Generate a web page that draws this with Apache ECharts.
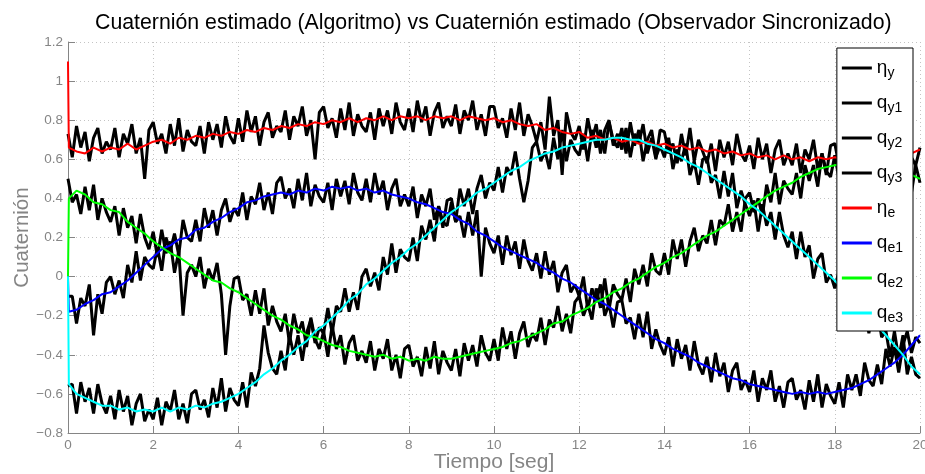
<!DOCTYPE html>
<html>
<head>
<meta charset="utf-8">
<script src="https://cdn.jsdelivr.net/npm/echarts@6/dist/echarts.min.js"></script>
<style>
  html, body { margin: 0; padding: 0; background: #fff; }
  #chart { width: 925px; height: 474px; }
</style>
</head>
<body>
<div id="chart"></div>
<script>
// sample times [seg] of the measured (algorithm) signals
const tiempoY = [
  0.0, 0.1, 0.2, 0.3, 0.4, 0.5, 0.6, 0.7, 0.8, 0.9,
  1.0, 1.1, 1.2, 1.3, 1.4, 1.5, 1.6, 1.7, 1.8, 1.9,
  2.0, 2.1, 2.2, 2.3, 2.4, 2.5, 2.6, 2.7, 2.8, 2.9,
  3.0, 3.1, 3.2, 3.3, 3.4, 3.5, 3.6, 3.7, 3.8, 3.9,
  4.0, 4.1, 4.2, 4.3, 4.4, 4.5, 4.6, 4.7, 4.8, 4.9,
  5.0, 5.1, 5.2, 5.3, 5.4, 5.5, 5.6, 5.7, 5.8, 5.9,
  6.0, 6.1, 6.2, 6.3, 6.4, 6.5, 6.6, 6.7, 6.8, 6.9,
  7.0, 7.1, 7.2, 7.3, 7.4, 7.5, 7.6, 7.7, 7.8, 7.9,
  8.0, 8.1, 8.2, 8.3, 8.4, 8.5, 8.6, 8.7, 8.8, 8.9,
  9.0, 9.1, 9.2, 9.3, 9.4, 9.5, 9.6, 9.7, 9.8, 9.9,
  10.0, 10.1, 10.2, 10.3, 10.4, 10.5, 10.6, 10.7, 10.8, 10.9,
  11.0, 11.1, 11.2, 11.3, 11.4, 11.5, 11.6, 11.7, 11.8, 11.9,
  12.0, 12.1, 12.2, 12.3, 12.4, 12.5, 12.6, 12.7, 12.8, 12.9,
  13.0, 13.1, 13.2, 13.3, 13.4, 13.5, 13.6, 13.7, 13.8, 13.9,
  14.0, 14.1, 14.2, 14.3, 14.4, 14.5, 14.6, 14.7, 14.8, 14.9,
  15.0, 15.1, 15.2, 15.3, 15.4, 15.5, 15.6, 15.7, 15.8, 15.9,
  16.0, 16.1, 16.2, 16.3, 16.4, 16.5, 16.6, 16.7, 16.8, 16.9,
  17.0, 17.1, 17.2, 17.3, 17.4, 17.5, 17.6, 17.7, 17.8, 17.9,
  18.0, 18.1, 18.2, 18.3, 18.4, 18.5, 18.6, 18.7, 18.8, 18.9,
  19.0, 19.1, 19.2, 19.3, 19.4, 19.5, 19.6, 19.7, 19.8, 19.9,
  20.0];

// sample times [seg] of the estimated (observer) signals
const tiempoE = [0, 0.02,
  0.2, 0.4, 0.6, 0.8, 1.0, 1.2, 1.4, 1.6, 1.8, 2.0,
  2.2, 2.4, 2.6, 2.8, 3.0, 3.2, 3.4, 3.6, 3.8, 4.0,
  4.2, 4.4, 4.6, 4.8, 5.0, 5.2, 5.4, 5.6, 5.8, 6.0,
  6.2, 6.4, 6.6, 6.8, 7.0, 7.2, 7.4, 7.6, 7.8, 8.0,
  8.2, 8.4, 8.6, 8.8, 9.0, 9.2, 9.4, 9.6, 9.8, 10.0,
  10.2, 10.4, 10.6, 10.8, 11.0, 11.2, 11.4, 11.6, 11.8, 12.0,
  12.2, 12.4, 12.6, 12.8, 13.0, 13.2, 13.4, 13.6, 13.8, 14.0,
  14.2, 14.4, 14.6, 14.8, 15.0, 15.2, 15.4, 15.6, 15.8, 16.0,
  16.2, 16.4, 16.6, 16.8, 17.0, 17.2, 17.4, 17.6, 17.8, 18.0,
  18.2, 18.4, 18.6, 18.8, 19.0, 19.2, 19.4, 19.6, 19.8, 20.0];

// quaternion from the algorithm (noisy)
const etaY = [
  0.73, 0.61, 0.77, 0.66, 0.74, 0.59, 0.71, 0.76, 0.63, 0.69,
  0.65, 0.76, 0.61, 0.73, 0.68, 0.78, 0.63, 0.71, 0.50, 0.75,
  0.79, 0.68, 0.73, 0.63, 0.78, 0.67, 0.81, 0.64, 0.75, 0.69,
  0.67, 0.77, 0.63, 0.79, 0.70, 0.78, 0.66, 0.82, 0.72, 0.68,
  0.81, 0.69, 0.85, 0.74, 0.82, 0.67, 0.79, 0.84, 0.71, 0.77,
  0.74, 0.85, 0.70, 0.82, 0.77, 0.87, 0.72, 0.80, 0.60, 0.84,
  0.87, 0.76, 0.81, 0.71, 0.86, 0.75, 0.89, 0.72, 0.83, 0.77,
  0.74, 0.84, 0.70, 0.86, 0.77, 0.85, 0.73, 0.89, 0.79, 0.75,
  0.86, 0.74, 0.90, 0.79, 0.87, 0.72, 0.84, 0.89, 0.76, 0.82,
  0.77, 0.88, 0.73, 0.85, 0.80, 0.90, 0.75, 0.83, 0.72, 0.87,
  0.87, 0.76, 0.81, 0.71, 0.86, 0.75, 0.89, 0.72, 0.83, 0.77,
  0.69, 0.79, 0.65, 0.92, 0.72, 0.80, 0.52, 0.84, 0.74, 0.70,
  0.77, 0.65, 0.81, 0.70, 0.78, 0.63, 0.75, 0.80, 0.67, 0.73,
  0.65, 0.76, 0.61, 0.73, 0.68, 0.78, 0.63, 0.71, 0.60, 0.75,
  0.74, 0.63, 0.68, 0.58, 0.73, 0.62, 0.76, 0.59, 0.70, 0.64,
  0.58, 0.68, 0.54, 0.70, 0.61, 0.69, 0.57, 0.73, 0.63, 0.59,
  0.67, 0.55, 0.71, 0.60, 0.68, 0.53, 0.65, 0.70, 0.57, 0.63,
  0.57, 0.68, 0.53, 0.65, 0.60, 0.70, 0.55, 0.63, 0.52, 0.67,
  0.68, 0.57, 0.62, 0.52, 0.67, 0.56, 0.70, 0.53, 0.64, 0.58,
  0.56, 0.66, 0.52, 0.68, 0.59, 0.67, 0.55, 0.71, 0.61, 0.57,
  0.66];
const qY1 = [
  -0.10, -0.10, -0.24, -0.11, -0.15, -0.04, -0.30, -0.09, -0.19, -0.03,
  0.00, -0.09, -0.02, -0.11, 0.06, -0.03, 0.13, -0.02, 0.10, 0.06,
  0.04, 0.15, 0.03, 0.20, 0.13, 0.22, 0.11, 0.29, 0.20, 0.18,
  0.29, 0.18, 0.35, 0.25, 0.34, 0.21, 0.34, 0.40, 0.28, 0.35,
  0.31, 0.43, 0.29, 0.41, 0.37, 0.48, 0.34, 0.43, 0.32, 0.48,
  0.51, 0.40, 0.45, 0.35, 0.50, 0.39, 0.53, 0.36, 0.47, 0.41,
  0.38, 0.48, 0.34, 0.50, 0.41, 0.49, 0.37, 0.53, 0.43, 0.39,
  0.50, 0.38, 0.53, 0.42, 0.49, 0.34, 0.45, 0.50, 0.36, 0.42,
  0.36, 0.46, 0.30, 0.42, 0.36, 0.45, 0.29, 0.36, 0.25, 0.39,
  0.40, 0.28, 0.31, 0.20, 0.33, 0.21, 0.34, 0.00, 0.25, 0.17,
  0.12, 0.21, 0.06, 0.21, 0.11, 0.18, 0.04, 0.19, 0.08, 0.03,
  0.12, -0.01, 0.13, 0.01, 0.08, -0.08, 0.02, 0.06, -0.08, -0.04,
  -0.10, 0.00, -0.17, -0.06, -0.13, -0.04, -0.20, -0.14, -0.26, -0.13,
  -0.12, -0.24, -0.21, -0.32, -0.19, -0.31, -0.18, -0.37, -0.27, -0.35,
  -0.40, -0.31, -0.46, -0.32, -0.42, -0.35, -0.48, -0.33, -0.45, -0.50,
  -0.41, -0.54, -0.39, -0.51, -0.44, -0.59, -0.48, -0.44, -0.58, -0.53,
  -0.59, -0.48, -0.64, -0.52, -0.58, -0.48, -0.64, -0.56, -0.67, -0.54,
  -0.52, -0.63, -0.58, -0.68, -0.53, -0.64, -0.50, -0.67, -0.55, -0.61,
  -0.65, -0.54, -0.67, -0.50, -0.58, -0.50, -0.61, -0.44, -0.53, -0.56,
  -0.45, -0.55, -0.37, -0.46, -0.36, -0.49, -0.35, -0.28, -0.39, -0.31,
  -0.34];
const qY2 = [
  0.50, 0.38, 0.42, 0.32, 0.46, 0.34, 0.47, 0.29, 0.40, 0.33,
  0.28, 0.36, 0.21, 0.35, 0.25, 0.31, 0.17, 0.32, 0.20, 0.14,
  0.23, 0.10, 0.24, 0.12, 0.18, 0.02, 0.13, -0.20, 0.02, 0.06,
  0.00, 0.10, -0.06, 0.04, -0.02, 0.07, -0.09, -0.40, -0.15, -0.01,
  0.00, -0.12, -0.09, -0.20, -0.07, -0.19, -0.06, -0.25, -0.15, -0.23,
  -0.28, -0.19, -0.34, -0.19, -0.29, -0.23, -0.36, -0.21, -0.32, -0.37,
  -0.28, -0.41, -0.25, -0.37, -0.30, -0.45, -0.34, -0.30, -0.43, -0.38,
  -0.44, -0.33, -0.48, -0.37, -0.42, -0.32, -0.48, -0.40, -0.52, -0.37,
  -0.35, -0.46, -0.41, -0.51, -0.36, -0.47, -0.33, -0.50, -0.38, -0.44,
  -0.48, -0.37, -0.51, -0.34, -0.43, -0.35, -0.46, -0.30, -0.39, -0.43,
  -0.32, -0.43, -0.26, -0.37, -0.28, -0.42, -0.29, -0.23, -0.36, -0.29,
  -0.33, -0.21, -0.35, -0.22, -0.26, -0.15, -0.28, -0.19, -0.29, -0.13,
  -0.10, -0.20, -0.14, -0.22, -0.06, -0.16, -0.01, -0.17, -0.04, -0.09,
  -0.12, -0.01, -0.13, 0.04, -0.04, 0.06, -0.05, 0.12, 0.03, 0.01,
  0.12, 0.01, 0.19, 0.09, 0.19, 0.05, 0.18, 0.25, 0.13, 0.21,
  0.17, 0.29, 0.16, 0.29, 0.26, 0.37, 0.23, 0.33, 0.23, 0.40,
  0.43, 0.33, 0.40, 0.31, 0.47, 0.38, 0.53, 0.37, 0.49, 0.45,
  0.42, 0.53, 0.40, 0.57, 0.49, 0.57, 0.46, 0.63, 0.54, 0.51,
  0.62, 0.50, 0.66, 0.55, 0.63, 0.48, 0.60, 0.65, 0.52, 0.58,
  0.53, 0.63, 0.48, 0.59, 0.53, 0.63, 0.47, 0.54, 0.43, 0.57,
  0.48];
const qY3 = [
  -0.56, -0.55, -0.70, -0.54, -0.64, -0.57, -0.70, -0.55, -0.65, -0.70,
  -0.61, -0.73, -0.58, -0.69, -0.61, -0.76, -0.65, -0.60, -0.74, -0.68,
  -0.73, -0.62, -0.76, -0.64, -0.69, -0.58, -0.73, -0.65, -0.75, -0.60,
  -0.58, -0.68, -0.63, -0.72, -0.57, -0.67, -0.52, -0.69, -0.57, -0.63,
  -0.66, -0.54, -0.67, -0.49, -0.56, -0.47, -0.25, -0.39, -0.47, -0.50,
  -0.38, -0.48, -0.30, -0.40, -0.30, -0.43, -0.29, -0.22, -0.34, -0.26,
  -0.29, -0.16, -0.29, -0.15, -0.18, -0.06, -0.18, -0.08, -0.17, 0.00,
  0.04, -0.05, 0.02, -0.07, 0.10, 0.01, 0.17, 0.02, 0.14, 0.10,
  0.08, 0.20, 0.08, 0.26, 0.19, 0.29, 0.18, 0.36, 0.28, 0.26,
  0.38, 0.28, 0.45, 0.36, 0.45, 0.32, 0.45, 0.52, 0.40, 0.48,
  0.44, 0.56, 0.43, 0.56, 0.52, 0.64, 0.50, 0.38, 0.49, 0.66,
  0.69, 0.59, 0.64, 0.55, 0.71, 0.60, 0.75, 0.59, 0.70, 0.65,
  0.62, 0.73, 0.59, 0.75, 0.66, 0.75, 0.63, 0.79, 0.70, 0.66,
  0.76, 0.63, 0.79, 0.67, 0.75, 0.59, 0.70, 0.75, 0.61, 0.67,
  0.61, 0.71, 0.55, 0.65, 0.59, 0.68, 0.52, 0.59, 0.47, 0.60,
  0.61, 0.48, 0.52, 0.40, 0.54, 0.41, 0.53, 0.35, 0.44, 0.37,
  0.31, 0.39, 0.23, 0.37, 0.26, 0.33, 0.19, 0.33, 0.21, 0.15,
  0.23, 0.09, 0.23, 0.10, 0.16, -0.01, 0.09, 0.12, -0.03, 0.01,
  -0.06, 0.03, -0.15, -0.05, -0.12, -0.05, -0.22, -0.16, -0.29, -0.17,
  -0.17, -0.31, -0.28, -0.41, -0.28, -0.42, -0.30, -0.50, -0.41, -0.50,
  -0.52];

// quaternion from the synchronized observer
const etaE = [1.10, 0.66,
  0.64, 0.63, 0.66, 0.64, 0.66, 0.65, 0.68, 0.65, 0.67, 0.69,
  0.70, 0.68, 0.71, 0.70, 0.72, 0.71, 0.73, 0.72, 0.74, 0.73,
  0.75, 0.74, 0.76, 0.75, 0.77, 0.76, 0.78, 0.77, 0.79, 0.78,
  0.80, 0.79, 0.81, 0.79, 0.81, 0.80, 0.82, 0.80, 0.82, 0.81,
  0.82, 0.80, 0.82, 0.81, 0.82, 0.80, 0.82, 0.81, 0.80, 0.81,
  0.79, 0.80, 0.78, 0.77, 0.78, 0.75, 0.76, 0.74, 0.73, 0.74,
  0.71, 0.72, 0.70, 0.71, 0.69, 0.70, 0.68, 0.69, 0.67, 0.68,
  0.66, 0.67, 0.65, 0.66, 0.64, 0.65, 0.63, 0.64, 0.62, 0.63,
  0.61, 0.62, 0.60, 0.62, 0.60, 0.61, 0.59, 0.61, 0.60, 0.61,
  0.60, 0.62, 0.61, 0.63, 0.62, 0.64, 0.62, 0.64, 0.63, 0.65];
const qE1 = [0.00, -0.18,
  -0.17, -0.14, -0.12, -0.09, -0.08, -0.05, -0.02, 0.02, 0.06, 0.10,
  0.14, 0.16, 0.19, 0.20, 0.24, 0.25, 0.28, 0.30, 0.33, 0.35,
  0.38, 0.39, 0.41, 0.42, 0.43, 0.42, 0.44, 0.43, 0.45, 0.44,
  0.46, 0.45, 0.46, 0.44, 0.45, 0.43, 0.44, 0.42, 0.41, 0.40,
  0.38, 0.37, 0.35, 0.33, 0.32, 0.29, 0.27, 0.23, 0.21, 0.18,
  0.15, 0.13, 0.11, 0.09, 0.07, 0.04, 0.02, -0.01, -0.03, -0.06,
  -0.09, -0.12, -0.14, -0.17, -0.20, -0.23, -0.26, -0.29, -0.32, -0.34,
  -0.37, -0.39, -0.41, -0.44, -0.46, -0.48, -0.50, -0.52, -0.53, -0.55,
  -0.56, -0.57, -0.58, -0.59, -0.60, -0.59, -0.60, -0.59, -0.60, -0.59,
  -0.58, -0.57, -0.55, -0.53, -0.50, -0.47, -0.44, -0.40, -0.35, -0.30];
const qE2 = [0.00, 0.40,
  0.44, 0.42, 0.38, 0.37, 0.34, 0.33, 0.28, 0.25, 0.22, 0.18,
  0.15, 0.12, 0.10, 0.07, 0.04, 0.01, -0.02, -0.03, -0.06, -0.08,
  -0.11, -0.14, -0.17, -0.20, -0.22, -0.25, -0.27, -0.30, -0.31, -0.33,
  -0.35, -0.36, -0.38, -0.39, -0.40, -0.41, -0.40, -0.42, -0.41, -0.43,
  -0.42, -0.43, -0.41, -0.42, -0.42, -0.41, -0.40, -0.39, -0.38, -0.37,
  -0.36, -0.34, -0.33, -0.31, -0.29, -0.27, -0.24, -0.23, -0.20, -0.18,
  -0.16, -0.13, -0.11, -0.08, -0.06, -0.03, -0.01, 0.02, 0.05, 0.07,
  0.10, 0.12, 0.15, 0.18, 0.21, 0.23, 0.26, 0.29, 0.32, 0.35,
  0.38, 0.41, 0.44, 0.46, 0.48, 0.51, 0.53, 0.55, 0.56, 0.57,
  0.58, 0.57, 0.58, 0.56, 0.57, 0.55, 0.54, 0.53, 0.52, 0.50];
const qE3 = [0.00, -0.55,
  -0.60, -0.62, -0.64, -0.66, -0.66, -0.68, -0.67, -0.69, -0.68, -0.69,
  -0.67, -0.69, -0.67, -0.68, -0.66, -0.67, -0.65, -0.64, -0.62, -0.60,
  -0.57, -0.54, -0.50, -0.47, -0.43, -0.40, -0.36, -0.33, -0.28, -0.25,
  -0.21, -0.17, -0.12, -0.09, -0.04, -0.01, 0.03, 0.07, 0.10, 0.14,
  0.17, 0.21, 0.25, 0.29, 0.33, 0.36, 0.39, 0.43, 0.45, 0.48,
  0.51, 0.54, 0.56, 0.59, 0.61, 0.63, 0.64, 0.66, 0.67, 0.68,
  0.69, 0.70, 0.70, 0.71, 0.71, 0.70, 0.70, 0.68, 0.67, 0.65,
  0.63, 0.61, 0.58, 0.56, 0.53, 0.50, 0.47, 0.44, 0.41, 0.37,
  0.34, 0.30, 0.26, 0.22, 0.18, 0.14, 0.10, 0.06, 0.02, -0.02,
  -0.07, -0.11, -0.16, -0.20, -0.25, -0.30, -0.35, -0.40, -0.46, -0.50];

const legendNames = ['ηy', 'qy1', 'qy2', 'qy3', 'ηe', 'qe1', 'qe2', 'qe3'];
const legendRich = {
  'ηy': '{m|η}{s|y}', 'qy1': '{m|q}{s|y1}', 'qy2': '{m|q}{s|y2}', 'qy3': '{m|q}{s|y3}',
  'ηe': '{m|η}{s|e}', 'qe1': '{m|q}{s|e1}', 'qe2': '{m|q}{s|e2}', 'qe3': '{m|q}{s|e3}'
};

const mkLine = (name, times, vals, color, width) => ({
  name: name,
  type: 'line',
  data: times.map((t, i) => [t, vals[i]]),
  showSymbol: false,
  symbol: 'none',
  lineStyle: { color: color, width: width },
  itemStyle: { color: color }
});

const chart = echarts.init(document.getElementById('chart'));
const gray = '#858585';
const minus = (v) => String(Math.round(v * 10) / 10).replace('-', '\u2212');

chart.setOption({
  animation: false,
  backgroundColor: '#ffffff',
  textStyle: { fontFamily: 'Liberation Sans' },
  title: {
    text: 'Cuaternión estimado (Algoritmo) vs Cuaternión estimado (Observador Sincronizado)',
    left: 90,
    top: 8,
    textStyle: { fontSize: 21.3, fontWeight: 'normal', color: '#000', fontFamily: 'Liberation Sans' }
  },
  legend: {
    orient: 'vertical',
    right: 12,
    top: 48,
    padding: [8, 10, 6, 5],
    itemGap: 11,
    itemWidth: 30,
    itemHeight: 3,
    backgroundColor: '#fff',
    borderColor: '#000',
    borderWidth: 1,
    borderRadius: 0,
    data: legendNames.map(n => ({ name: n, icon: 'rect' })),
    formatter: (n) => legendRich[n],
    textStyle: {
      color: '#000',
      rich: {
        m: { fontSize: 19, lineHeight: 24, fontFamily: 'Liberation Sans' },
        s: { fontSize: 14, lineHeight: 24, verticalAlign: 'bottom', padding: [10, 0, 0, 0], fontFamily: 'Liberation Sans' }
      }
    }
  },
  grid: { left: 68, right: 5, top: 42, bottom: 41, containLabel: false, outerBoundsMode: 'none' },
  xAxis: {
    type: 'value',
    min: 0,
    max: 20,
    interval: 2,
    name: 'Tiempo [seg]',
    nameLocation: 'middle',
    nameGap: 19,
    nameMoveOverlap: false,
    nameTextStyle: { fontSize: 21, color: gray },
    axisLine: { onZero: false, lineStyle: { color: gray } },
    axisTick: { inside: true, length: 7, lineStyle: { color: gray } },
    axisLabel: { color: gray, fontSize: 13.5, margin: 5 },
    splitLine: { show: true, lineStyle: { color: '#c4c4c4', type: [1, 3] } }
  },
  yAxis: {
    type: 'value',
    min: -0.8,
    max: 1.2,
    interval: 0.2,
    name: 'Cuaternión',
    nameLocation: 'middle',
    nameGap: 35,
    nameMoveOverlap: false,
    nameTextStyle: { fontSize: 20.5, color: gray },
    axisLine: { show: true, onZero: false, lineStyle: { color: gray } },
    axisTick: { show: true, inside: true, length: 7, lineStyle: { color: gray } },
    axisLabel: { color: gray, fontSize: 13.5, margin: 5, formatter: minus },
    splitLine: { show: true, lineStyle: { color: '#c4c4c4', type: [1, 3] } }
  },
  series: [
    mkLine('ηy', tiempoY, etaY, '#000000', 3),
    mkLine('qy1', tiempoY, qY1, '#000000', 3),
    mkLine('qy2', tiempoY, qY2, '#000000', 3),
    mkLine('qy3', tiempoY, qY3, '#000000', 3),
    mkLine('ηe', tiempoE, etaE, '#ff0000', 2),
    mkLine('qe1', tiempoE, qE1, '#0000ff', 2),
    mkLine('qe2', tiempoE, qE2, '#00ff00', 2),
    mkLine('qe3', tiempoE, qE3, '#00ffff', 2)
  ]
});
</script>
</body>
</html>
